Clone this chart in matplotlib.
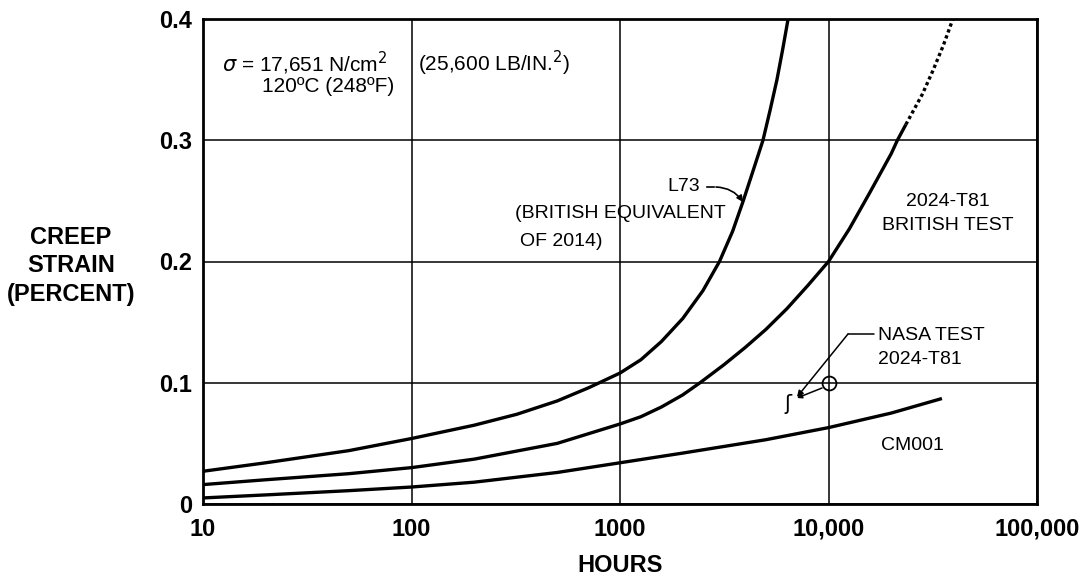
import matplotlib
matplotlib.use("Agg")
import matplotlib.pyplot as plt
from matplotlib.ticker import FixedLocator, FixedFormatter, NullLocator

plt.rcParams['font.family'] = ['Liberation Sans', 'DejaVu Sans']

# ---- data ----
l73_hours = [10, 20, 50, 100, 200, 320, 500, 710, 1000, 1260, 1580, 2000, 2500, 3000,
             3470, 3900, 4370, 4850, 5250, 5660, 6030, 6400]
l73_strain = [0.027, 0.034, 0.044, 0.054, 0.065, 0.074, 0.085, 0.096, 0.108, 0.119, 0.134,
              0.153, 0.176, 0.200, 0.225, 0.250, 0.276, 0.300, 0.325, 0.350, 0.375, 0.400]

brit_hours = [10, 20, 50, 100, 200, 500, 1000, 1260, 1580, 2000, 2420, 3160, 3980, 5010,
              6310, 7940, 10000, 12600, 15800, 20000, 21400, 23500]
brit_strain = [0.016, 0.020, 0.025, 0.030, 0.037, 0.050, 0.066, 0.072, 0.080, 0.090, 0.100,
               0.115, 0.129, 0.144, 0.161, 0.180, 0.200, 0.227, 0.257, 0.289, 0.300, 0.313]

brit_ext_hours = [23500, 28200, 31600, 35500, 39500]
brit_ext_strain = [0.313, 0.338, 0.357, 0.378, 0.400]

cm_hours = [10, 20, 50, 100, 200, 500, 1000, 2000, 5000, 10000, 20000, 35000]
cm_strain = [0.005, 0.0075, 0.011, 0.014, 0.018, 0.026, 0.034, 0.042, 0.053, 0.063, 0.075, 0.087]

nasa_hours = [10000]
nasa_strain = [0.100]

x_ticks = [10, 100, 1000, 10000, 100000]
x_labels = ['10', '100', '1000', '10,000', '100,000']
y_ticks = [0, 0.1, 0.2, 0.3, 0.4]
y_labels = ['0', '0.1', '0.2', '0.3', '0.4']

W, H = 1083, 583


def P(px, py):
    """pixel position in the figure -> figure fraction (for labels/leaders)"""
    return (px / W, 1 - py / H)


# ---- figure ----
fig = plt.figure(figsize=(W / 100, H / 100), dpi=100)
ax = fig.add_axes([203 / W, 1 - 504 / H, (1037 - 203) / W, (504 - 19) / H])
ax.set_xscale('log')
ax.set_xlim(10, 100000)
ax.set_ylim(0, 0.4)

ax.xaxis.set_major_locator(FixedLocator(x_ticks))
ax.xaxis.set_major_formatter(FixedFormatter(x_labels))
ax.xaxis.set_minor_locator(NullLocator())
ax.yaxis.set_major_locator(FixedLocator(y_ticks))
ax.yaxis.set_major_formatter(FixedFormatter(y_labels))
ax.tick_params(axis='both', length=0, labelsize=17)
ax.tick_params(axis='x', pad=10)
ax.tick_params(axis='y', pad=8)
for lab in ax.get_xticklabels() + ax.get_yticklabels():
    lab.set_fontweight('bold')
ax.grid(True, color='black', linewidth=1.1)
for s in ax.spines.values():
    s.set_linewidth(2.0)
    s.set_zorder(5)

lw = 2.4
ax.plot(l73_hours, l73_strain, color='black', lw=lw, solid_capstyle='butt')
ax.plot(brit_hours, brit_strain, color='black', lw=lw, solid_capstyle='butt')
ax.plot(brit_ext_hours, brit_ext_strain, color='black', lw=lw, linestyle=(0, (1, 0.9)))
ax.plot(cm_hours, cm_strain, color='black', lw=lw, solid_capstyle='butt')
ax.plot(nasa_hours, nasa_strain, marker='o', markersize=10, markerfacecolor='none',
        markeredgecolor='black', markeredgewidth=1.3, linestyle='none', zorder=6)

# ---- annotations ----
tfs = 14
ft = fig.transFigure
fig.text(*P(222, 63), r'$\sigma$ = 17,651 N/cm$^{2}$', fontsize=15, va='center', ha='left')
fig.text(*P(418, 63), r'(25,600 LB/IN.$^{2}$)', fontsize=15, va='center', ha='left')
fig.text(*P(262, 86), '120ºC (248ºF)', fontsize=15, va='center', ha='left')

fig.text(*P(700, 187), 'L73', fontsize=tfs, va='center', ha='right')
ax.annotate('', xy=P(717, 187), xytext=P(704, 187), xycoords=ft, textcoords=ft,
            arrowprops=dict(arrowstyle='-', color='black', lw=1.2))
ax.annotate('', xy=P(743, 202), xytext=P(716, 187), xycoords=ft, textcoords=ft,
            arrowprops=dict(arrowstyle='-|>', color='black', lw=1.2, mutation_scale=9,
                            shrinkA=0, shrinkB=0,
                            connectionstyle='arc3,rad=-0.25'))
fig.text(*P(726, 213), '(BRITISH EQUIVALENT', fontsize=tfs, va='center', ha='right')
fig.text(*P(603, 241), 'OF 2014)', fontsize=tfs, va='center', ha='right')

fig.text(*P(948, 202), '2024-T81', fontsize=tfs, va='center', ha='center')
fig.text(*P(948, 225), 'BRITISH TEST', fontsize=tfs, va='center', ha='center')

fig.text(*P(912, 445), 'CM001', fontsize=tfs, va='center', ha='center')

fig.text(*P(878, 335), 'NASA TEST', fontsize=tfs, va='center', ha='left')
fig.text(*P(878, 359), '2024-T81', fontsize=tfs, va='center', ha='left')
ax.annotate('', xy=P(848, 334), xytext=P(874, 334), xycoords=ft, textcoords=ft,
            arrowprops=dict(arrowstyle='-', color='black', lw=1.1, shrinkA=0, shrinkB=0))
ax.annotate('', xy=P(797, 397), xytext=P(848, 334), xycoords=ft, textcoords=ft,
            arrowprops=dict(arrowstyle='-|>', color='black', lw=1.1, mutation_scale=9,
                            shrinkA=0, shrinkB=0))
ax.annotate('', xy=P(797, 398), xytext=P(822, 388), xycoords=ft, textcoords=ft,
            arrowprops=dict(arrowstyle='-|>', color='black', lw=1.1, mutation_scale=7,
                            shrinkA=0, shrinkB=0))
fig.text(*P(788, 404), 'ʃ', fontsize=15, va='center', ha='center', family='DejaVu Sans')

# ---- axis titles ----
fig.text(*P(71, 266), 'CREEP\nSTRAIN\n(PERCENT)', fontsize=17,
         fontweight='bold', ha='center', va='center', linespacing=1.3)
fig.text(*P(620, 565), 'HOURS', fontsize=17, fontweight='bold',
         ha='center', va='center')

fig.savefig('out.png', dpi=100)
